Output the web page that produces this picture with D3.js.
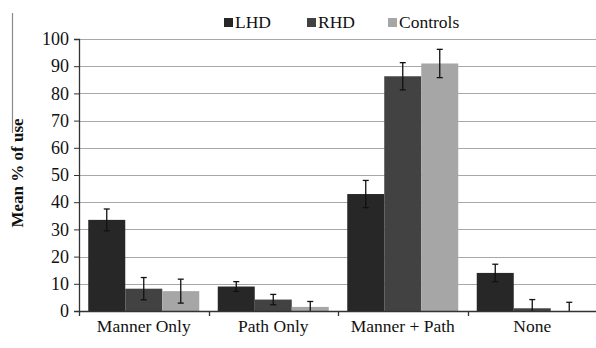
<!DOCTYPE html>
<html>
<head>
<meta charset="utf-8">
<script src="https://cdn.jsdelivr.net/npm/d3@7"></script>
</head>
<body style="margin:0;background:#fff">
<div id="chart"></div>
<script>
// data
var categories = ["Manner Only", "Path Only", "Manner + Path", "None"];
var groups = ["LHD", "RHD", "Controls"];
var lhd = [33.5, 9, 43, 14];
var rhd = [8.2, 4.2, 86.3, 1];
var controls = [7.3, 1.5, 91, 0];
var lhdErr = [4, 1.8, 5, 3.2];
var rhdErr = [4.1, 1.9, 5, 3.2];
var controlsErr = [4.4, 2, 5.2, 3.2];
var yTicks = [0, 10, 20, 30, 40, 50, 60, 70, 80, 90, 100];
var colours = ["#272727", "#424242", "#a6a6a6"];

var FONT = "'Liberation Serif', 'Times New Roman', serif";
var width = 596, height = 348;
var margin = {top: 39, right: 0, bottom: 37, left: 79};

var svg = d3.select("#chart").append("svg")
  .attr("width", width).attr("height", height)
  .style("font-family", FONT);

var x = d3.scaleBand().domain(categories)
  .range([margin.left, 597]).paddingInner(0).paddingOuter(0);
var xInner = d3.scaleBand().domain(groups)
  .range([0, x.bandwidth()]).paddingInner(0).paddingOuter(0.25);
var y = d3.scaleLinear().domain([0, 100])
  .range([height - margin.bottom, margin.top]);

// stray border line at far left
svg.append("line")
  .attr("x1", 12.5).attr("x2", 12.5).attr("y1", 13).attr("y2", 133)
  .attr("stroke", "#8a8a8a").attr("stroke-width", 1.2);

// gridlines
svg.append("g").selectAll("line")
  .data(yTicks.filter(function(d) { return d > 0; }))
  .enter().append("line")
  .attr("x1", margin.left).attr("x2", width)
  .attr("y1", function(d) { return Math.round(y(d)) + 0.5; })
  .attr("y2", function(d) { return Math.round(y(d)) + 0.5; })
  .attr("stroke", "#a8a8a8").attr("stroke-width", 1.2);

// y axis
var yAxis = svg.append("g")
  .attr("transform", "translate(" + margin.left + ",0)")
  .call(d3.axisLeft(y).tickValues(yTicks).tickSize(5).tickPadding(5));
yAxis.attr("font-family", null).attr("font-size", null);
yAxis.select(".domain").attr("stroke", "#333").attr("stroke-width", 1.3);
yAxis.selectAll(".tick line").attr("stroke", "#333");
yAxis.selectAll("text")
  .style("font-family", FONT)
  .style("font-size", "18px").attr("fill", "#111");

// bars
var rows = [
  {name: "LHD", values: lhd, err: lhdErr},
  {name: "RHD", values: rhd, err: rhdErr},
  {name: "Controls", values: controls, err: controlsErr}
];

rows.forEach(function(r, gi) {
  var data = categories.map(function(c, i) {
    return {cat: c, v: r.values[i], e: r.err[i]};
  });
  var g = svg.append("g");
  g.selectAll("rect").data(data).enter().append("rect")
    .attr("x", function(d) { return x(d.cat) + xInner(r.name); })
    .attr("width", xInner.bandwidth())
    .attr("y", function(d) { return y(d.v); })
    .attr("height", function(d) { return y(0) - y(d.v); })
    .attr("fill", colours[gi]);

  // error bars
  var eb = g.selectAll(".eb").data(data).enter().append("g");
  var cx = function(d) { return x(d.cat) + xInner(r.name) + xInner.bandwidth() / 2; };
  eb.append("line")
    .attr("x1", cx).attr("x2", cx)
    .attr("y1", function(d) { return y(Math.max(0, d.v - d.e)); })
    .attr("y2", function(d) { return y(d.v + d.e); })
    .attr("stroke", "#111").attr("stroke-width", 1.3);
  eb.append("line")
    .attr("x1", function(d) { return cx(d) - 3; })
    .attr("x2", function(d) { return cx(d) + 3; })
    .attr("y1", function(d) { return y(d.v + d.e); })
    .attr("y2", function(d) { return y(d.v + d.e); })
    .attr("stroke", "#111").attr("stroke-width", 1.3);
  eb.filter(function(d) { return d.v - d.e > 0; }).append("line")
    .attr("x1", function(d) { return cx(d) - 3; })
    .attr("x2", function(d) { return cx(d) + 3; })
    .attr("y1", function(d) { return y(d.v - d.e); })
    .attr("y2", function(d) { return y(d.v - d.e); })
    .attr("stroke", "#111").attr("stroke-width", 1.3);
});

// x axis line with ticks between categories
var xAxis = svg.append("g");
xAxis.append("line")
  .attr("x1", margin.left).attr("x2", width)
  .attr("y1", y(0) + 0.5).attr("y2", y(0) + 0.5)
  .attr("stroke", "#333").attr("stroke-width", 1.3);
xAxis.selectAll(".tk").data(categories).enter().append("line")
  .attr("x1", function(d) { return Math.round(x(d)) + 0.5; })
  .attr("x2", function(d) { return Math.round(x(d)) + 0.5; })
  .attr("y1", y(0)).attr("y2", y(0) + 5)
  .attr("stroke", "#333").attr("stroke-width", 1.3);
xAxis.selectAll("text").data(categories).enter().append("text")
  .attr("x", function(d) { return x(d) + x.bandwidth() / 2; })
  .attr("y", 332)
  .attr("text-anchor", "middle")
  .style("font-family", FONT)
  .style("font-size", "17.5px")
  .attr("fill", "#111")
  .text(function(d) { return d; });

// y title
svg.append("text")
  .attr("transform", "translate(23,173) rotate(-90)")
  .attr("text-anchor", "middle")
  .style("font-family", FONT)
  .style("font-size", "17px")
  .style("font-weight", "bold")
  .attr("fill", "#111")
  .text("Mean % of use");

// legend
var legendX = [224, 307, 388];
var legend = svg.append("g");
groups.forEach(function(gname, i) {
  legend.append("rect")
    .attr("x", legendX[i]).attr("y", 18)
    .attr("width", 9).attr("height", 9)
    .attr("fill", colours[i]);
  legend.append("text")
    .attr("x", legendX[i] + 11).attr("y", 28)
    .style("font-family", FONT)
    .style("font-size", "17.5px")
    .attr("fill", "#111")
    .text(gname);
});
</script>
</body>
</html>
